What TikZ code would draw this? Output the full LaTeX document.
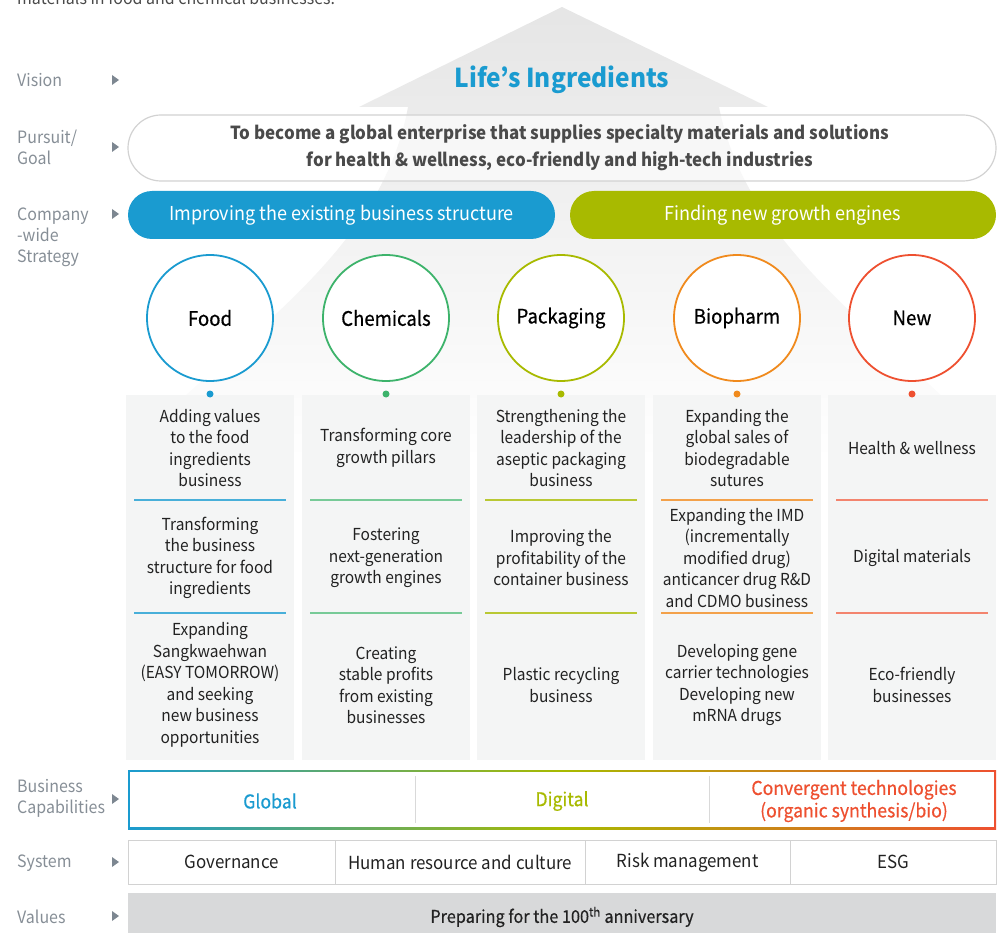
\documentclass[tikz,border=0pt]{standalone}
\usepackage{fontspec}
\setmainfont{Noto Sans CJK KR}[FakeStretch=0.94]
\newfontfamily\medfont{Noto Sans CJK KR}[FakeStretch=0.93, FakeBold=0.5]
\definecolor{cblue}{HTML}{1A9BD0}
\definecolor{cgreen}{HTML}{3DB36B}
\definecolor{colive}{HTML}{A8BA00}
\definecolor{corange}{HTML}{F08A1D}
\definecolor{cred}{HTML}{EE5030}
\definecolor{labgray}{HTML}{868E96}
\definecolor{trigray}{HTML}{7D8791}
\definecolor{txtdark}{HTML}{222222}
\definecolor{goaltxt}{HTML}{4A4A4A}
\definecolor{colfill}{HTML}{F4F5F5}
\definecolor{valfill}{HTML}{D8D9DA}
\definecolor{boxline}{HTML}{D2D2D2}
\newcommand{\tipmark}[1]{\fill[trigray] (112,#1-5) -- (119,#1) -- (112,#1+5) -- cycle;}
\tikzset{
  sidelabel/.style={anchor=west, align=left, text=labgray, inner sep=0pt, font=\fontsize{17}{21}\selectfont},
  bodytxt/.style={align=center, text=txtdark, inner sep=0pt, font=\fontsize{16.5}{21.5}\selectfont},
  bizcircle/.style={circle, draw=#1, line width=1.8pt, fill=white, minimum size=126pt, inner sep=0pt, text=black, font=\medfont\fontsize{20}{24}\selectfont},
  bizdot/.style={circle, fill=#1, inner sep=0pt, minimum size=7pt},
  colbox/.style={fill=colfill, draw=none, minimum width=168pt, minimum height=365pt, anchor=north, inner sep=0pt},
  sepline/.style={draw=#1, line width=1.1pt},
  stratbar/.style={rounded corners=24pt, fill=#1, minimum height=48pt, inner sep=0pt, text=white, font=\fontsize{19.2}{24}\selectfont},
  syscell/.style={draw=boxline, fill=white, minimum height=44pt, inner sep=0pt, anchor=north west, text=txtdark, font=\fontsize{18}{22}\selectfont},
  captxt/.style={inner sep=0pt, align=center, text=#1, font=\medfont\fontsize{19}{22.5}\selectfont},
}
\begin{document}
\begin{tikzpicture}[x=1pt,y=-1pt]
\useasboundingbox (0,0) rectangle (1004,933);
\clip (0,0) rectangle (1004,933);
% background arrow
\shade[top color=black!10, bottom color=white] (562,7) -- (768,107) -- (719,107)
  .. controls (750,260) and (900,340) .. (1004,460) -- (120,460)
  .. controls (230,340) and (380,260) .. (408,107) -- (359,107) -- cycle;
% top text, cut at the upper edge as in the reference
\node[anchor=base west, inner sep=0pt, text=goaltxt, font=\fontsize{17}{20}\selectfont] (toptxt) at (17,4.5) {materials in food and chemical businesses.};
% side labels
\node[sidelabel] (lvision) at (17,80) {Vision}; \tipmark{80}
\node[sidelabel] (lgoal) at (17,147.5) {Pursuit/\\Goal}; \tipmark{147}
\node[sidelabel, anchor=north west] (lstrat) at (17,208) {Company\\-wide\\Strategy}; \tipmark{214}
\node[sidelabel] (lcap) at (17,798) {Business\\Capabilities}; \tipmark{799}
\node[sidelabel] (lsys) at (17,863) {System}; \tipmark{862}
\node[sidelabel] (lval) at (17,917) {Values}; \tipmark{916}
% vision
\node[text=cblue, inner sep=0pt, font=\fontsize{26}{30}\bfseries] (vision) at (562,80) {Life’s Ingredients};
% goal
\node[draw=boxline, line width=1.2pt, fill=white, fill opacity=0.6, text opacity=1, rounded corners=33pt, minimum width=868pt, minimum height=66pt, inner sep=0pt] (goalbox) at (562,148) {};
\node[align=center, text=goaltxt, inner sep=0pt, font=\fontsize{18}{27}\bfseries] (goal) at (560,148) {To become a global enterprise that supplies specialty materials and solutions\\for health \& wellness, eco-friendly and high-tech industries};
% strategy bars
\node[stratbar=cblue, minimum width=427pt] (s1) at (341.5,215) {Improving the existing business structure};
\node[stratbar=colive, minimum width=426pt] (s2) at (783,215) {Finding new growth engines};
% columns
\foreach \x/\n in {210/1,386/2,561/3,737/4,912/5} {
  \node[colbox] (col\n) at (\x,395) {};
}
% circles and dots
\node[bizcircle=cblue] (c1) at (210,318) {Food};
\node[bizcircle=cgreen] (c2) at (386,318) {Chemicals};
\node[bizcircle=colive] (c3) at (561,318) {Packaging};
\node[bizcircle=corange] (c4) at (737,318) {Biopharm};
\node[bizcircle=cred] (c5) at (912,318) {New};
\node[bizdot=cblue] (d1) at (210,394) {};
\node[bizdot=cgreen] (d2) at (386,394) {};
\node[bizdot=colive] (d3) at (561,394) {};
\node[bizdot=corange] (d4) at (737,394) {};
\node[bizdot=cred] (d5) at (912,394) {};
% separators
\foreach \x/\c in {210/cblue!80,386/cgreen!70,561/colive!80,737/corange!80,912/cred!70} {
  \draw[sepline=\c] (\x-76,500) -- (\x+76,500);
  \draw[sepline=\c] (\x-76,613) -- (\x+76,613);
}
% column texts
\node[bodytxt] (t11) at (210,448) {Adding values\\to the food\\ingredients\\business};
\node[bodytxt] (t12) at (210,558) {Transforming\\the business\\structure for food\\ingredients};
\node[bodytxt] (t13) at (210,685) {Expanding\\Sangkwaehwan\\(EASY TOMORROW)\\and seeking\\new business\\opportunities};
\node[bodytxt] (t21) at (386,448) {Transforming core\\growth pillars};
\node[bodytxt] (t22) at (386,558) {Fostering\\next-generation\\growth engines};
\node[bodytxt] (t23) at (386,685) {Creating\\stable profits\\from existing\\businesses};
\node[bodytxt] (t31) at (561,448) {Strengthening the\\leadership of the\\aseptic packaging\\business};
\node[bodytxt] (t32) at (561,558) {Improving the\\profitability of the\\container business};
\node[bodytxt] (t33) at (561,685) {Plastic recycling\\business};
\node[bodytxt] (t41) at (737,448) {Expanding the\\global sales of\\biodegradable\\sutures};
\node[bodytxt] (t42) at (737,558) {Expanding the IMD\\(incrementally\\modified drug)\\anticancer drug R\&D\\and CDMO business};
\node[bodytxt] (t43) at (737,685) {Developing gene\\carrier technologies\\Developing new\\mRNA drugs};
\node[bodytxt] (t51) at (912,448) {Health \& wellness};
\node[bodytxt] (t52) at (912,558) {Digital materials};
\node[bodytxt] (t53) at (912,685) {Eco-friendly\\businesses};
% capabilities
\shade[left color=cblue, right color=cred, middle color=colive] (128,770) rectangle (996,829);
\node[fill=white, minimum width=864pt, minimum height=55pt, inner sep=0pt] (capbox) at (562,799.5) {};
\draw[draw=black!15, line width=1pt] (415,776) -- (415,823);
\draw[draw=black!15, line width=1pt] (709,776) -- (709,823);
\node[captxt=cblue] (cap1) at (270,801) {Global};
\node[captxt=colive] (cap2) at (562,801) {Digital};
\node[captxt=cred] (cap3) at (854,801) {Convergent technologies\\(organic synthesis/bio)};
% system
\node[syscell, minimum width=207pt] (sys1) at (128,840) {Governance};
\node[syscell, minimum width=250pt] (sys2) at (335,840) {Human resource and culture};
\node[syscell, minimum width=205pt] (sys3) at (585,840) {Risk management};
\node[syscell, minimum width=206pt] (sys4) at (790,840) {ESG};
% values
\node[fill=valfill, minimum width=868pt, minimum height=50pt, anchor=north west, inner sep=0pt] (valbox) at (128,893) {};
\node[text=txtdark, inner sep=0pt, font=\medfont\fontsize{17.5}{21}\selectfont] (val) at (562,917) {Preparing for the 100\textsuperscript{th} anniversary};
\end{tikzpicture}
\end{document}
